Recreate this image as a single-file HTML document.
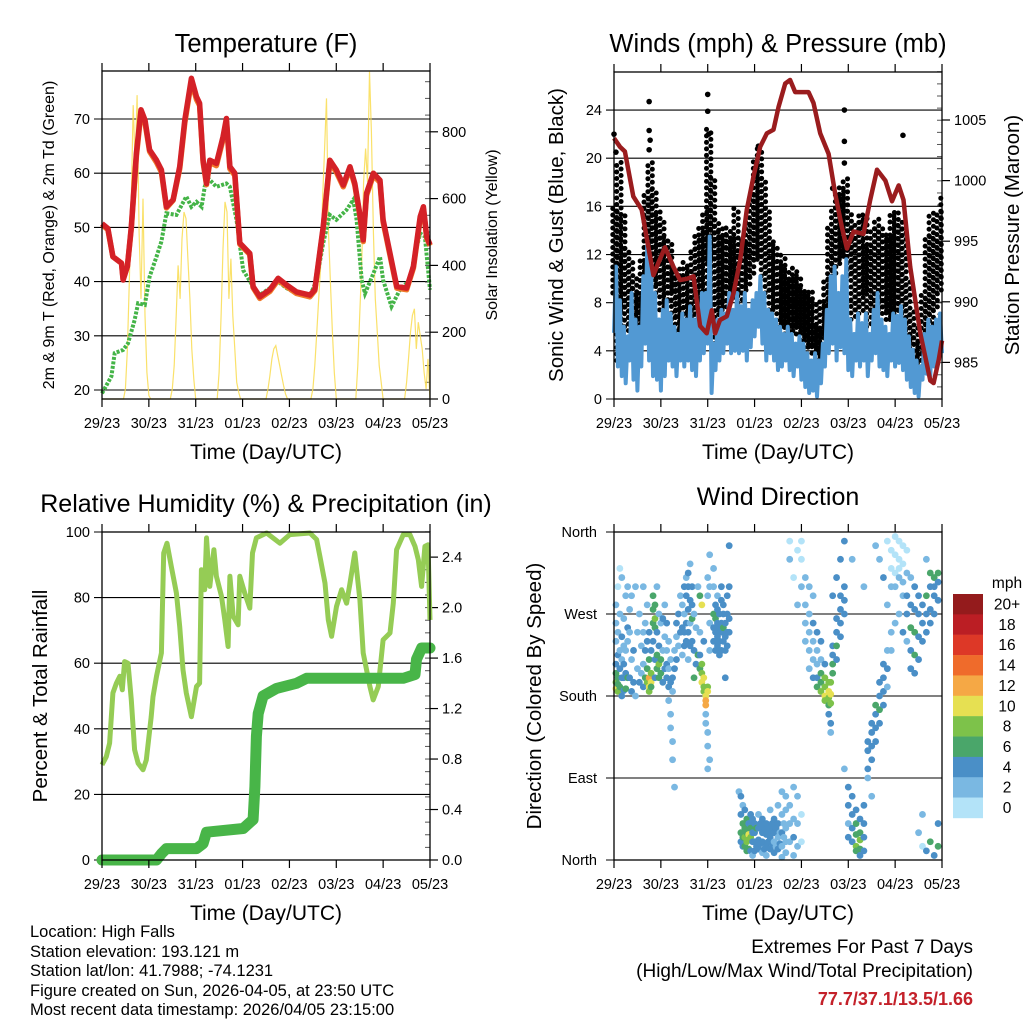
<!DOCTYPE html>
<html><head><meta charset="utf-8"><style>
html,body{margin:0;padding:0;background:#fff;}
svg{display:block;font-family:"Liberation Sans",Arial,sans-serif;}
</style></head><body>
<svg id="s" width="1024" height="1024" viewBox="0 0 1024 1024" xmlns="http://www.w3.org/2000/svg">
<rect width="1024" height="1024" fill="#fff"/>
<g id="g1"></g>
<g id="g2"></g>
<g id="g3"></g>
<g id="g4"></g>
<g font-size="16.5" fill="#000">
<text x="30" y="937">Location: High Falls</text>
<text x="30" y="957">Station elevation: 193.121 m</text>
<text x="30" y="976">Station lat/lon: 41.7988; -74.1231</text>
<text x="30" y="996">Figure created on Sun, 2026-04-05, at 23:50 UTC</text>
<text x="30" y="1015">Most recent data timestamp: 2026/04/05 23:15:00</text>
</g>
<g text-anchor="end">
<text x="973" y="953" font-size="19">Extremes For Past 7 Days</text>
<text x="973" y="977" font-size="19">(High/Low/Max Wind/Total Precipitation)</text>
<text x="973" y="1005" font-size="18" font-weight="bold" fill="#c4212a">77.7/37.1/13.5/1.66</text>
</g>
</svg>
<script>
// ===== Data =====
const dayLabels = ["29/23","30/23","31/23","01/23","02/23","03/23","04/23","05/23"];
const tHours = [0,3,5.6,10,10.8,13,15,17.6,20,22,24.4,27.9,30.4,33,36.4,39.8,42.4,45.8,48.4,50,51.8,53.5,55.2,58.6,62,63.7,65.5,68,70.6,75.7,77.4,80.8,86,90.2,94.5,99.6,106.5,109,113.3,116.7,120,123.6,127,129.5,132,133.8,135.5,139,142.4,144,151,156,159.5,163,164.6,166.3,168];
const temp2m = [50.7,49.8,44.6,43.4,40.3,42.8,50.1,63.7,71.7,69.8,64.3,62.4,60.6,53.8,55.1,61.2,69.8,77.5,74.1,72.9,62.4,58.1,62.4,61.8,66.7,70.1,61.2,60,47.1,45.2,39.1,37.2,38.5,40.6,39.4,38.1,37.5,38.5,50.1,62.4,60.6,57.8,61.2,58.1,52.6,47.7,56.3,60,58.7,51.4,39.1,38.8,42.8,52,53.8,48.3,46.8];
const temp9m = [50.5,49.6,44.6,43.4,40.5,42.8,49.8,63.2,71.2,69.3,64,62,60.2,53.6,55,60.8,69.3,77,73.6,72.5,62,57.9,62,61.4,66.2,69.6,60.8,59.6,46.9,45,38.9,36.9,38.2,40.3,39.1,37.8,37.2,38.3,49.8,62,60.2,57.5,60.8,57.8,52.3,47.4,55.9,59.6,58.3,51,38.8,38.5,42.5,51.6,53.4,48,46.6];
const tdHours = [0,4.8,6.5,10.8,13.3,16.7,18.5,21.9,24.4,27.9,30.4,33,38.1,43.2,45.8,48.4,51,52.6,54.3,58.6,63.7,65.5,68.9,72.3,77.4,80.8,86,90.2,94.5,99.6,106.5,109.9,113.3,116.7,120,125.2,128.7,130.4,133,134.7,139,142.4,144,148.3,152.6,157.7,160.3,163,165.4,168];
const dewpoint = [19.4,22.5,26.8,27.4,28.6,32.9,36,35.7,40.9,44.6,47.4,52.6,52.3,55.7,53.8,54.7,53.8,57.5,59.1,57.5,58.1,57.5,51.4,42.1,39.1,37.5,38.8,40,38.8,37.8,37.3,40.3,47.1,52.3,51.4,53.2,55.1,51.4,40.3,37.8,41.5,44.6,40.3,35.4,38.5,40.3,45.2,48.9,48.3,38.5];
const solarHours = [0,11,12,13,14,15,16,17,18,19,20,21,22,23,24,25,35,36,37,38,39,40,41,42,43,44,45,46,47,48,59,60,61,62,63,64,65,66,67,68,69,70,71,84,85,86,87,88,89,90,91,92,93,94,95,107,108,109,110,111,112,113,114,115,116,117,118,119,120,130,131,132,133,134,135,136,137,138,139,140,141,142,143,144,155,156,157,158,159,160,161,162,163,164,165,166,167,168];
const solarVals = [0,0,30,150,350,600,880,700,910,500,300,600,250,80,10,0,0,30,100,250,400,300,480,560,540,420,300,150,60,0,0,80,250,450,590,560,300,420,250,150,50,20,0,0,30,70,120,150,160,130,100,70,40,15,0,0,30,100,200,300,400,600,750,900,500,350,200,80,0,0,100,250,400,650,750,650,980,800,500,300,200,100,50,0,0,50,120,200,250,270,150,230,190,150,80,30,120,0];

const presHours = [0,3,5.6,9.9,14.2,17.6,20.2,22.7,26.1,30.4,33.8,37.3,40.7,44.1,47.5,50.1,51.8,54.3,57.8,61.2,64.6,68,71.4,74.9,78.3,81.7,84.3,87.7,90.2,92.8,97.1,99.6,102.2,105.6,109.9,113.3,116.7,119.3,122.7,127.8,131.2,134.7,139,142.4,145.8,148.3,151.7,156.9,162,163.7,166.3,168];
const pressure = [1003.5,1002.8,1002.4,998.7,997.6,994.5,992.2,993.2,994.5,992.9,991.8,991.9,992.1,988,987.4,989.3,987.4,988.5,988.8,990.7,993.4,997.6,1000.3,1002.8,1003.9,1004.2,1006.1,1008,1008.3,1007.3,1007.3,1007.3,1006.4,1003.9,1002.2,998.9,996.2,994.4,995.8,995.6,998.4,1000.9,1000,998.3,999.6,998.4,992.9,987.4,983.5,983.3,985.2,986.8];
const gustLo = [8.8,3.2,7.4,6,4.6,3.8,3.8,6.6,8.8,10.2,9.3,8.8,7.4,8,8.8,6.6,4.6,5.2,5.4,6,5.2,5.4,6.6,8.8,11.6,6,4.6,7.4,7.4,8.8,8.2,8.8,8,8.8,9.3,10.2,11.6,11.6,10.2,8.8,7.4,7.4,6,6,5.4,5.4,6,5.4,4.9,4.3,4.3,3.8,2.7,3.2,5.4,7.7,10.2,11,11.6,12.1,10.2,6.6,7.4,7.1,8.8,6,7.4,8.2,7.4,7.1,6.6,6.6,7.1,7.4,6,4.6,3.2,2.4,1.9,3.2,4.6,6,7.4,8.8,10.2];
const gustHi = [16,19.8,15.4,12.7,11.5,10.2,8.8,11.5,17,19.8,17.6,15.7,14.9,13.5,13.2,11,11,10.2,11.5,11,12.7,13.5,14.3,15.7,22.6,18.5,14.9,14.3,13.8,14.3,13.5,16,12.7,13.2,14.9,17,19.8,21,18.5,16,13.5,12.9,11.5,12.1,11,10.2,11,10.4,9.3,9.1,9.1,8.2,6,8.2,10.2,14.3,15.7,17,17.6,18.5,15.7,14.3,14.9,15.2,15.4,12.9,14.3,15.2,14.3,13.8,13.8,15.7,15.7,14.9,14.3,10.2,7.4,6,4.6,8.8,13.5,15.7,13.5,15.7,17];
const gustOutHours = [0,1,18,18,18,18.5,48,48,48.5,118,118,118,148,74,112];
const gustOutVals = [22,20.5,24.7,22.3,20.7,21.5,25.3,23.9,22,24,21.4,19.6,21.9,21,17.5];
const sonicLo = [5.5,2.7,1.9,1.3,3.2,1.6,0.7,2.7,4.6,3.2,1.9,1.6,0.7,1.9,3.2,2.7,1.9,3.2,2.7,3.2,2.4,1.9,3.2,3.8,4.6,0.5,2.4,3.2,3.8,4.6,3.8,4,3.8,4,3.2,4.3,5.2,6,4.6,3.2,3.8,3.2,2.4,2.7,3.2,2.4,1.9,2.7,1.6,1,0.5,0.7,0.2,1.3,2.7,3.8,4.6,3.2,4.3,3.8,2.4,1.9,3.2,2.7,3.2,1.9,3.2,3.8,2.7,2.4,1.9,3.2,2.7,3,2.4,1.6,1,0.5,0.2,1.6,2.1,1.9,2.7,3.2,3.8];
const sonicHi = [11,8.2,6,5.2,8.8,6.6,6,10.2,12.7,11,8.8,6.6,7.4,8.2,7.1,6,5.4,7.1,6.6,7.7,6.6,7.1,8.8,8.8,13.5,4.6,6.6,7.4,7.1,8.8,7.4,8.8,7.7,8.8,7.4,8.2,8.8,10.2,8.8,7.4,7.1,6.6,6,5.4,6,5.4,4.6,5.2,4.6,3.8,3.2,3.8,3.2,4.6,7.4,10.2,11,8.8,10.2,11.6,6.6,5.4,7.1,6.3,7.1,5.4,7.4,8.8,6.6,6,5.4,7.1,6.9,7.7,6.6,5.2,4.1,3.2,2.7,5.4,6.6,6,6.6,7.1,7.4];

const rhHours = [0,2.2,3.9,5.6,7.4,9.1,10.4,11.6,13.3,15,16.7,18.5,21,22.7,25.2,26.1,27.9,30.4,31.6,33.3,35.5,38.1,39.8,41.5,43.2,45.8,48.4,50,50.9,52.6,53.5,55.2,57.3,58.6,61.2,62.9,64.6,65.5,67.2,69.7,70.6,73.1,75.7,77.1,79.1,84.3,91.1,96.2,106.5,109.9,111.6,114.2,115.9,117.6,120.1,122.7,125.3,127,129.5,132.1,133.8,137.2,138.9,141.5,144,147.5,149.2,150.9,154.3,157.7,160.3,162,163.7,165.4,167,168];
const rhVals = [29,31.5,35.6,50.9,53.9,56,51.9,60.5,60,48.8,33.6,29.5,27.5,30.5,43.7,49.8,56,63.1,93.6,96.6,89.5,81.4,71.2,58,50.9,43.7,52.9,53.9,88.5,82.4,98.2,83.4,94.6,86.5,80.4,73.2,65.1,86.5,74.3,71.7,86.5,81.4,76.8,93.6,98.2,99.7,96.6,99.2,99.7,97.7,92.6,84.4,73.2,68.2,77.3,82.4,78.3,84.4,93.6,79.3,63.1,52.9,48.8,52.9,67.1,69.2,78.3,94.6,99.2,99.2,95.6,91.6,83.4,95.6,96.1,73.2];
const rainHours = [0,27.9,30.4,33,48.4,51.8,53.5,72.3,77.4,78.3,79.1,80,82.5,89.4,99.6,104.8,154.3,160.3,161.1,163.7,168];
const rainVals = [0,0,0.05,0.09,0.09,0.13,0.22,0.25,0.32,0.58,0.98,1.16,1.30,1.36,1.40,1.44,1.44,1.47,1.59,1.68,1.68];

// wind direction observations: [hour, direction deg, speed mph]
const dirObs = [
[1,188,10],[1,195,8],[1,205,6],[1,215,4],[1,240,3],[1,260,2],[1,280,2],[2,185,9],[2,200,6],[2,225,4],[2,250,2],[2,300,1],[2,193,7],[3,190,6],[3,210,4],[3,230,3],[3,320,1],[3,270,2],
[4,180,4],[4,200,5],[4,220,3],[4,245,4],[4,310,2],[5,186,5],[5,200,4],[5,215,5],[5,235,3],[5,265,2],[6,188,6],[6,205,4],[6,230,3],[6,290,2],[7,200,6],[7,240,3],[7,255,4],[7,300,2],
[8,200,4],[8,250,3],[8,275,2],[9,185,4],[9,220,3],[9,290,2],[10,195,5],[10,230,4],[11,180,3],[11,300,2],[12,210,3],[12,250,2],[13,195,4],[13,270,2],[14,205,3],[14,235,2],
[15,190,4],[15,215,3],[15,250,2],[15,300,2],[16,200,6],[16,230,4],[16,260,3],[17,195,8],[17,210,6],[17,240,4],[17,280,3],[18,190,10],[18,200,12],[18,185,9],[18,220,6],[18,250,4],
[19,195,10],[19,205,8],[19,230,5],[19,190,7],[20,260,6],[20,275,7],[20,290,6],[20,240,4],[21,265,8],[21,280,6],[21,255,7],[21,220,4],[21,200,5],[22,210,6],[22,225,7],[22,250,4],[22,300,3],
[23,200,6],[23,215,8],[23,235,4],[23,270,3],[24,205,7],[24,220,6],[24,260,3],[25,195,4],[25,230,3],[25,265,4],[26,210,4],[26,245,3],[26,280,2],
[27,215,4],[27,230,3],[27,260,4],[27,200,5],[28,190,4],[28,210,3],[28,240,3],[28,175,2],[29,195,4],[29,220,3],[29,160,2],[29,145,3],[30,185,3],[30,200,4],[30,130,2],[30,110,3],[31,210,4],[31,230,3],[31,80,2],[32,220,4],[32,245,3],[32,260,4],[33,235,3],[33,270,4],[34,250,4],[34,290,3],
[35,225,3],[35,255,4],[35,280,2],[36,235,4],[36,250,4],[36,270,3],[36,300,4],[37,240,5],[37,260,4],[37,290,4],[37,310,3],[38,250,4],[38,275,5],[38,300,4],[38,315,4],[38,220,3],[39,260,3],[39,285,4],[39,325,3],[39,235,4],[40,240,5],[40,265,6],[40,280,4],[40,300,5],[41,200,6],[41,230,4],[41,270,3],[42,215,4],[42,255,3],[43,225,6],[43,300,2],
[44,210,6],[44,225,4],[44,250,3],[44,290,6],[45,205,8],[45,195,10],[45,215,8],[45,280,10],[46,200,10],[46,190,9],[46,185,8],[46,240,4],[47,180,10],[47,175,12],[47,170,13],[47,160,3],[47,150,2],[48,190,8],[48,185,10],[48,140,2],[48,125,2],[48,100,2],[48,290,3],[48,310,2],[49,230,2],[49,260,3],[49,300,2],[49,335,3],[49,110,3],
[51,240,5],[51,255,4],[51,270,6],[51,300,3],[51,320,2],[52,230,4],[52,250,4],[52,265,6],[52,280,4],[53,235,4],[53,245,5],[53,260,4],[53,275,4],[53,290,3],[54,225,4],[54,240,4],[54,255,4],[54,270,4],[55,230,4],[55,250,4],[55,260,4],[55,285,4],[55,300,4],[56,240,4],[56,255,6],[56,270,4],[56,280,4],[57,245,4],[57,260,4],[57,230,4],[57,200,4],[58,250,4],[58,235,4],[58,270,4],[58,290,4],[59,265,4],[59,250,4],[59,300,4],[59,345,4],
[64,75,3],[65,70,4],[65,50,4],[65,30,6],[65,20,4],[66,60,3],[66,40,6],[66,25,6],[66,15,4],[67,55,4],[67,35,6],[67,25,8],[67,15,6],[68,45,6],[68,30,6],[68,20,8],[68,10,6],[69,40,4],[69,28,10],[69,22,8],[69,12,6],[70,50,4],[70,35,6],[70,25,8],[70,10,4],[71,45,4],[71,30,4],[71,20,4],[71,5,3],
[72,40,4],[72,30,4],[72,20,4],[72,10,4],[73,35,6],[73,15,4],[74,50,3],[74,35,4],[74,22,4],[74,12,4],[75,40,4],[75,18,4],[76,45,4],[76,30,4],[76,20,4],[76,8,3],[77,35,4],[77,12,4],[78,40,4],[78,28,4],[78,15,4],[78,5,2],[79,30,4],[79,20,4],[80,55,2],[80,35,4],[80,25,4],[80,12,4],[81,40,4],[81,18,4],[82,45,4],[82,30,4],[82,20,3],[82,8,4],[83,35,4],[83,15,2],[84,60,3],[84,40,4],[84,25,2],[84,12,4],[85,30,2],[85,18,4],[86,75,3],[86,50,2],[86,30,4],[86,15,2],[86,3,2],[87,40,2],[87,25,2],[88,70,2],[88,55,2],[88,35,2],[88,20,2],[88,8,2],
[90,60,2],[90,40,2],[90,20,2],[90,350,1],[90,330,2],[92,80,2],[92,45,2],[92,25,4],[92,5,2],[92,310,1],[94,70,2],[94,40,2],[94,15,2],[94,340,1],[94,280,2],[96,50,0],[96,20,0],[96,330,0],[96,350,0],[96,300,2],[98,310,2],[98,280,2],[98,260,2],[98,240,2],
[100,300,2],[100,270,2],[100,250,2],[100,230,2],[100,210,2],[102,290,2],[102,260,4],[102,240,2],[102,220,2],[102,200,4],[104,250,4],[104,230,2],[104,215,2],[104,200,4],[104,190,6],[106,240,4],[106,220,2],[106,205,6],[106,195,6],[106,185,8],[108,200,8],[108,190,8],[108,180,10],[108,175,8],[108,215,4],[110,195,8],[110,185,10],[110,178,8],[110,170,6],[110,160,4],[111,195,8],[111,182,10],[111,172,8],[111,150,4],[111,140,2],[112,205,6],[112,215,6],[112,225,4],[112,235,4],[112,290,4],[114,220,4],[114,235,6],[114,250,4],[114,265,4],[114,310,4],[116,245,4],[116,260,4],[116,275,4],[116,290,4],[116,330,4],[118,270,4],[118,285,4],[118,300,4],[118,100,2],[118,350,4],
[120,80,4],[120,60,4],[120,40,2],[120,25,4],[122,70,4],[122,50,4],[122,35,4],[122,20,4],[122,330,2],[124,55,4],[124,40,6],[124,28,6],[124,15,8],[124,10,6],[126,45,4],[126,30,6],[126,22,8],[126,12,6],[126,5,4],[128,60,4],[128,40,4],[128,25,4],[128,10,4],[128,300,2],
[130,90,2],[130,100,4],[130,120,4],[130,130,4],[132,110,4],[132,125,4],[132,140,4],[132,150,4],[132,70,2],[134,130,4],[134,145,4],[134,160,4],[134,170,6],[134,345,2],[136,150,4],[136,165,6],[136,180,4],[136,195,4],[136,330,2],[138,170,4],[138,185,4],[138,200,4],[138,215,4],[138,310,4],[140,190,2],[140,210,4],[140,230,2],[140,280,2],[140,350,0],
[142,340,0],[142,320,0],[142,300,2],[142,250,2],[142,230,2],[144,355,0],[144,335,0],[144,315,0],[144,300,2],[144,260,2],[146,350,0],[146,330,0],[146,320,0],[146,310,2],[146,270,2],[148,345,0],[148,325,0],[148,305,2],[148,290,2],[148,250,4],[150,340,0],[150,315,2],[150,290,4],[150,270,4],[150,240,2],
[152,310,2],[152,280,4],[152,255,6],[152,230,4],[152,210,4],[154,300,4],[154,275,4],[154,250,6],[154,225,6],[154,205,4],[156,290,4],[156,270,4],[156,245,4],[156,220,4],[156,30,2],[158,280,4],[158,260,4],[158,240,4],[158,15,0],[158,50,2],[160,290,6],[160,270,4],[160,250,4],[160,10,4],[160,330,2],[162,300,4],[162,275,4],[162,260,4],[162,20,6],[162,315,6],[164,310,6],[164,290,4],[164,270,4],[164,5,4],[164,300,4],[166,315,6],[166,305,4],[166,285,4],[166,15,6],[166,40,4]
];
const speedLabels = ["20+","18","16","14","12","10","8","6","4","2","0"];
const speedColors = ["#941b1c","#bb1e24","#dd3827","#ef6b2b","#f5a845","#e6e052","#7dc24a","#4aa66a","#4a8fc7","#7ab8e2","#b3e3f8"];

// ===== Helpers =====
const NS = "http://www.w3.org/2000/svg";
function mk(tag, attrs, parent) {
  const e = document.createElementNS(NS, tag);
  for (const k in attrs) e.setAttribute(k, attrs[k]);
  parent.appendChild(e);
  return e;
}
function txt(parent, x, y, s, size, anchor, rot) {
  const t = mk("text", {x: x, y: y, "font-size": size, "text-anchor": anchor || "middle", fill: "#000"}, parent);
  if (rot) t.setAttribute("transform", "rotate(" + rot + " " + x + " " + y + ")");
  t.textContent = s;
  return t;
}
function frame(g, x0, y0, x1, y1, name) {
  const b = mk("rect", {x: x0, y: y0, width: x1 - x0, height: y1 - y0, fill: "none", stroke: "#000", "stroke-width": 1.3}, g);
  
  
  const ax = mk("g", {}, g);
  
  
  for (let i = 0; i < dayLabels.length; i++) {
    const x = x0 + i * (x1 - x0) / 7;
    mk("line", {x1: x, y1: y0 - 8, x2: x, y2: y0, stroke: "#000", "stroke-width": 1.2}, ax);
    mk("line", {x1: x, y1: y1, x2: x, y2: y1 + 8, stroke: "#000", "stroke-width": 1.2}, ax);
    const t = txt(ax, x, y1 + 29, dayLabels[i], 14.5);
    
    
  }
  const xt = txt(g, (x0 + x1) / 2, y1 + 60, "Time (Day/UTC)", 21);
  
  
}
function hgrid(g, x0, x1, y) {
  mk("line", {x1: x0 - 8, y1: y, x2: x1, y2: y, stroke: "#000", "stroke-width": 1.1}, g);
}
function poly(g, pts, attrs) {
  const a = Object.assign({fill: "none", points: pts.map(p => p[0].toFixed(1) + "," + p[1].toFixed(1)).join(" ")}, attrs);
  return mk("polyline", a, g);
}
function rightTicks(g, x1, y0, y1, majors, minorStep) {
  for (let y = y1; y >= y0 - 0.5; y -= minorStep) mk("line", {x1: x1 - 5, y1: y, x2: x1, y2: y, stroke: "#555", "stroke-width": 1}, g);
  majors.forEach(y => mk("line", {x1: x1, y1: y, x2: x1 + 8, y2: y, stroke: "#000", "stroke-width": 1.2}, g));
}

// ===== Panel 1: Temperature =====
(function () {
  const g = document.getElementById("g1");
  const x0 = 102, x1 = 430, y0 = 71, y1 = 399;
  const X = h => x0 + h / 168 * (x1 - x0);
  const Y = t => 119 + (70 - t) * 5.42;
  const Ys = v => 399 - v * 0.334;
  const tt = txt(g, 266, 52, "Temperature (F)", 25.5);
  
  
  [20, 30, 40, 50, 60, 70].forEach(v => {
    hgrid(g, x0, x1, Y(v));
    const l = txt(g, x0 - 12, Y(v) + 5, String(v), 14.5, "end");
    
    
  });
  rightTicks(g, x1, y0, y1, [0, 200, 400, 600, 800].map(Ys), 33.4 / 2);
  [0, 200, 400, 600, 800].forEach(v => {
    const l = txt(g, x1 + 12, Ys(v) + 5, String(v), 14.5, "start");
    
    
  });
  const sol = poly(g, solarHours.map((h, i) => [X(h), Ys(solarVals[i])]), {stroke: "#f9dc50", "stroke-width": 1.2, "stroke-opacity": 0.85});
  
  
  const td = poly(g, tdHours.map((h, i) => [X(h), Y(dewpoint[i])]), {stroke: "#44b447", "stroke-width": 4, "stroke-dasharray": "3 1.5"});
  
  
  const t9 = poly(g, tHours.map((h, i) => [X(h), Y(temp9m[i])]), {stroke: "#f07a2a", "stroke-width": 5.5, "stroke-linejoin": "round"});
  
  
  const t2 = poly(g, tHours.map((h, i) => [X(h), Y(temp2m[i])]), {stroke: "#d42127", "stroke-width": 5.5, "stroke-linejoin": "round"});
  
  
  frame(g, x0, y0, x1, y1, "temperature");
  const yl = txt(g, 54, 235, "2m & 9m T (Red, Orange) & 2m Td (Green)", 16, "middle", -90);
  
  
  const yr = txt(g, 497, 235, "Solar Insolation (Yellow)", 16, "middle", -90);
  
  
})();

// ===== Panel 2: Winds & Pressure =====
(function () {
  const g = document.getElementById("g2");
  const x0 = 614, x1 = 942, y0 = 72, y1 = 399;
  const X = h => x0 + h / 168 * (x1 - x0);
  const Y = w => 399 - w * 12.04;
  const Yp = p => 120 + (1005 - p) * 12.12;
  const tt = txt(g, 778, 52, "Winds (mph) & Pressure (mb)", 25.5);
  
  
  [0, 4, 8, 12, 16, 20, 24].forEach(v => {
    hgrid(g, x0, x1, Y(v));
    const l = txt(g, x0 - 12, Y(v) + 5, String(v), 14.5, "end");
    
    
  });
  rightTicks(g, x1, y0, y1, [985, 990, 995, 1000, 1005].map(Yp), 12.12);
  [985, 990, 995, 1000, 1005].forEach(v => {
    const l = txt(g, x1 + 12, Yp(v) + 5, String(v), 14.5, "start");
    
    
  });
  const gg = mk("g", {fill: "#000"}, g);
  
  
  gustLo.forEach((lo, i) => {
    const hi = gustHi[i];
    for (let k = 0; k < 2; k++) {
      const h = i * 2 + k * 1.0;
      if (h > 168) continue;
      for (let y = Y(lo) - k * 3; y >= Y(hi); y -= 6.5) {
        const c = mk("circle", {cx: X(h) + (k ? 1.2 : -1.2), cy: y, r: 2.5}, gg);
        
        
      }
    }
  });
  gustOutHours.forEach((h, i) => {
    const c = mk("circle", {cx: X(h), cy: Y(gustOutVals[i]), r: 2.8}, gg);
    
    
  });
  const pts = [];
  sonicLo.forEach((lo, i) => { pts.push([X(i * 2), Y(lo)]); if (i * 2 + 1 <= 168) pts.push([X(i * 2 + 1), Y(sonicHi[i])]); });
  const sl = poly(g, pts, {stroke: "#5299d3", "stroke-width": 4, "stroke-linejoin": "round"});
  
  
  const pl = poly(g, presHours.map((h, i) => [X(h), Yp(pressure[i])]), {stroke: "#9a1c1e", "stroke-width": 4.5, "stroke-linejoin": "round"});
  
  
  frame(g, x0, y0, x1, y1, "winds");
  const yl = txt(g, 563, 235, "Sonic Wind & Gust (Blue, Black)", 20.5, "middle", -90);
  
  
  const yr = txt(g, 1019, 235, "Station Pressure (Maroon)", 20.5, "middle", -90);
  
  
})();

// ===== Panel 3: RH & Precip =====
(function () {
  const g = document.getElementById("g3");
  const x0 = 102, x1 = 430, y0 = 532, y1 = 860;
  const X = h => x0 + h / 168 * (x1 - x0);
  const Y = v => 860 - v * 3.28;
  const Yr = v => 860 - v * 126.2;
  const tt = txt(g, 266, 512, "Relative Humidity (%) & Precipitation (in)", 25);
  
  
  [0, 20, 40, 60, 80, 100].forEach(v => {
    hgrid(g, x0, x1, Y(v));
    const l = txt(g, x0 - 12, Y(v) + 5, String(v), 14.5, "end");
    
    
  });
  rightTicks(g, x1, y0, y1, [0, 0.4, 0.8, 1.2, 1.6, 2.0, 2.4].map(Yr), 12.62);
  [0, 0.4, 0.8, 1.2, 1.6, 2.0, 2.4].forEach(v => {
    const l = txt(g, x1 + 12, Yr(v) + 5, v.toFixed(1), 14.5, "start");
    
    
  });
  const rh = poly(g, rhHours.map((h, i) => [X(h), Y(rhVals[i])]), {stroke: "#95cc55", "stroke-width": 5, "stroke-linejoin": "round"});
  
  
  const rn = poly(g, rainHours.map((h, i) => [X(h), Yr(rainVals[i])]), {stroke: "#48b548", "stroke-width": 11, "stroke-linejoin": "round", "stroke-linecap": "round"});
  
  
  frame(g, x0, y0, x1, y1, "humidity");
  const yl = txt(g, 47, 696, "Percent & Total Rainfall", 20.5, "middle", -90);
  
  
})();

// ===== Panel 4: Wind Direction =====
(function () {
  const g = document.getElementById("g4");
  const x0 = 614, x1 = 942, y0 = 532, y1 = 860;
  const X = h => x0 + h / 168 * (x1 - x0);
  const Y = d => 860 - d * 0.9111;
  const tt = txt(g, 778, 505, "Wind Direction", 25);
  
  
  const dirNames = ["North", "East", "South", "West", "North"];
  dirNames.forEach((n, i) => {
    hgrid(g, x0, x1, Y(i * 90));
    const l = txt(g, x0 - 17, Y(i * 90) + 5, n, 14.5, "end");
    
    
  });
  const dg = mk("g", {}, g);
  
  
  dirObs.forEach(o => {
    const idx = Math.max(0, Math.min(10, 10 - Math.floor(o[2] / 2)));
    const c = mk("circle", {cx: X(o[0]), cy: Y(o[1]), r: 3.4, fill: speedColors[idx]}, dg);
    
    
  });
  frame(g, x0, y0, x1, y1, "wind-direction");
  const yl = txt(g, 541, 696, "Direction (Colored By Speed)", 20.5, "middle", -90);
  
  
  const cb = mk("g", {}, g);
  
  
  const mph = txt(cb, 1007, 588, "mph", 15.5);
  
  
  speedLabels.forEach((s, i) => {
    const y = 594 + i * 20.36;
    const r = mk("rect", {x: 953, y: y, width: 30, height: 20.6, fill: speedColors[i]}, cb);
    
    
    const l = txt(cb, 1007, y + 15.5, s, 15.5);
    
    
  });
})();
</script>
</body></html>
